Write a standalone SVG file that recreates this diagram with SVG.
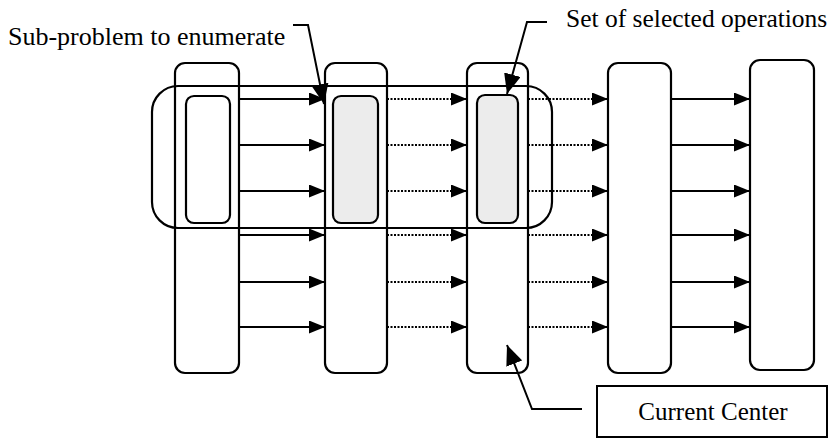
<svg xmlns="http://www.w3.org/2000/svg" width="830" height="439" viewBox="0 0 830 439">
<defs>
<style>
.col{fill:none;stroke:#000;stroke-width:2.2}
.inner{stroke:#000;stroke-width:2.2}
.sol{stroke:#000;stroke-width:2.2;fill:none}
.dot{stroke:#000;stroke-width:2;fill:none;stroke-dasharray:2 1.5}
.lead{stroke:#000;stroke-width:2;fill:none}
</style>
<marker id="ah" markerUnits="userSpaceOnUse" markerWidth="17" markerHeight="13" refX="16" refY="6.5" orient="auto">
<path d="M0,0 L16,6.5 L0,13 Z" fill="#000"/>
</marker>
<marker id="lh" markerUnits="userSpaceOnUse" markerWidth="21" markerHeight="17" refX="20" refY="8.5" orient="auto">
<path d="M0,0 L20,8.5 L0,17 Z" fill="#000"/>
</marker>
</defs>
<rect width="830" height="439" fill="#fff"/>
<g id="inner-boxes">
<rect id="inner1" class="inner" x="186" y="96" width="44" height="127" rx="8" fill="#fff"/>
<rect id="inner2" class="inner" x="333" y="96" width="45" height="127" rx="8" fill="#ececec"/>
<rect id="inner3" class="inner" x="477" y="95" width="41" height="128" rx="8" fill="#ececec"/>
</g>
<g id="col1"><rect class="col" x="175" y="63" width="64" height="310" rx="10"/></g>
<g id="col2"><rect class="col" x="325" y="63" width="62" height="310" rx="10"/></g>
<g id="col3"><rect class="col" x="467" y="63" width="61" height="310" rx="10"/></g>
<g id="col4"><rect class="col" x="608" y="63" width="63" height="310" rx="10"/></g>
<g id="col5"><rect class="col" x="750" y="60" width="64" height="310" rx="10"/></g>
<g id="subproblem"><rect class="col" x="152" y="86" width="400" height="142" rx="26"/></g>
<g id="connectors">
<path class="sol" marker-end="url(#ah)" d="M239,99H325"/>
<path class="sol" marker-end="url(#ah)" d="M239,145H325"/>
<path class="sol" marker-end="url(#ah)" d="M239,191H325"/>
<path class="sol" marker-end="url(#ah)" d="M239,235H325"/>
<path class="sol" marker-end="url(#ah)" d="M239,282H325"/>
<path class="sol" marker-end="url(#ah)" d="M239,327H325"/>
<path class="dot" marker-end="url(#ah)" d="M387,99H467"/>
<path class="dot" marker-end="url(#ah)" d="M387,145H467"/>
<path class="dot" marker-end="url(#ah)" d="M387,191H467"/>
<path class="dot" marker-end="url(#ah)" d="M387,235H467"/>
<path class="dot" marker-end="url(#ah)" d="M387,282H467"/>
<path class="dot" marker-end="url(#ah)" d="M387,327H467"/>
<path class="dot" marker-end="url(#ah)" d="M528,99H608"/>
<path class="dot" marker-end="url(#ah)" d="M528,145H608"/>
<path class="dot" marker-end="url(#ah)" d="M528,191H608"/>
<path class="dot" marker-end="url(#ah)" d="M528,235H608"/>
<path class="dot" marker-end="url(#ah)" d="M528,282H608"/>
<path class="dot" marker-end="url(#ah)" d="M528,327H608"/>
<path class="sol" marker-end="url(#ah)" d="M671,99H750"/>
<path class="sol" marker-end="url(#ah)" d="M671,145H750"/>
<path class="sol" marker-end="url(#ah)" d="M671,191H750"/>
<path class="sol" marker-end="url(#ah)" d="M671,235H750"/>
<path class="sol" marker-end="url(#ah)" d="M671,282H750"/>
<path class="sol" marker-end="url(#ah)" d="M671,327H750"/>
<path class="lead" marker-end="url(#lh)" d="M293,25H308L324,104"/>
<path class="lead" marker-end="url(#lh)" d="M547,22H527L507,94"/>
<path class="lead" marker-end="url(#lh)" d="M582,409H532L507,345"/>
</g>
<g id="label-subproblem"><text x="8" y="45" font-family="'Liberation Serif', 'DejaVu Serif', serif" font-size="26" fill="#000">Sub-problem to enumerate</text></g>
<g id="label-selected"><text x="566" y="27" font-family="'Liberation Serif', 'DejaVu Serif', serif" font-size="25.5" fill="#000">Set of selected operations</text></g>
<g id="current-center">
<rect x="597" y="386" width="230" height="51" fill="#fff" stroke="#000" stroke-width="2"/>
<text x="713" y="420" text-anchor="middle" font-family="'Liberation Serif', 'DejaVu Serif', serif" font-size="25" fill="#000">Current Center</text>
</g>
</svg>
